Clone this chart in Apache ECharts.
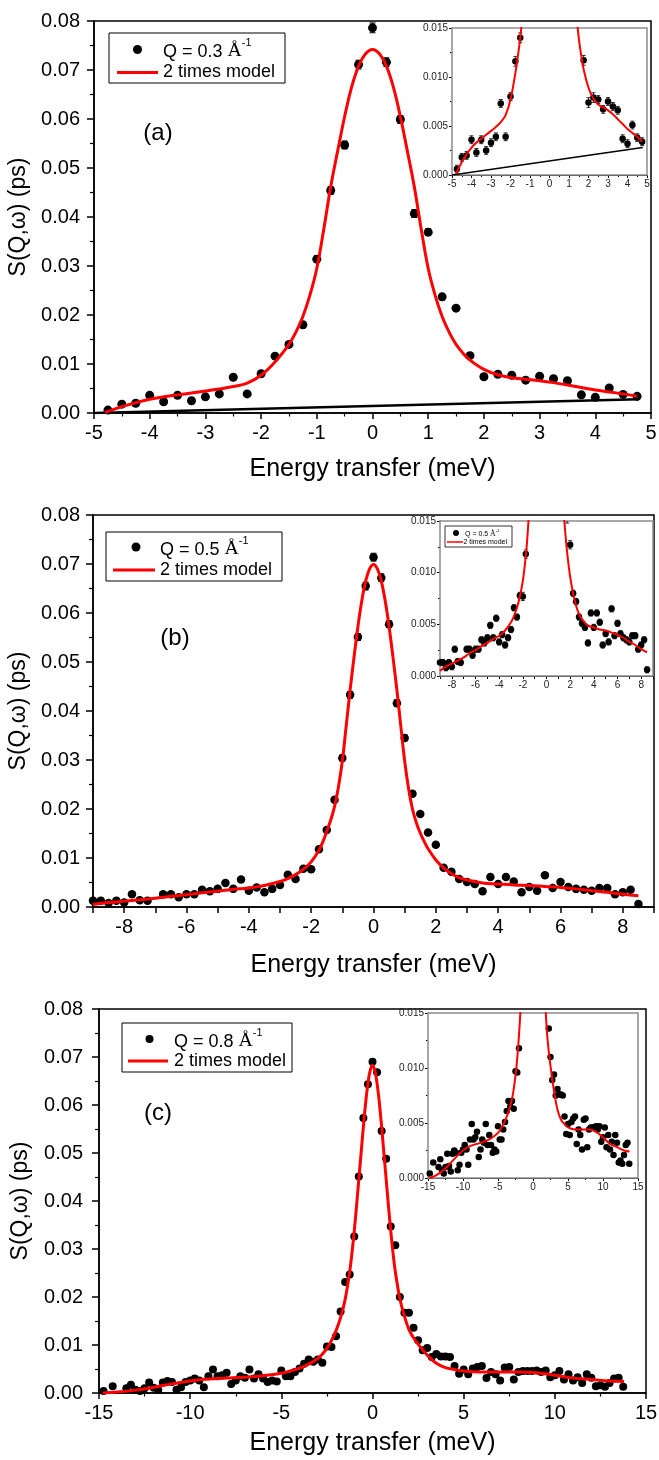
<!DOCTYPE html>
<html><head><meta charset="utf-8">
<script src="https://cdn.jsdelivr.net/npm/echarts@6/dist/echarts.min.js"></script>
<style>html,body{margin:0;padding:0;background:#fff}#c{width:659px;height:1460px}</style>
</head><body><div id="c"></div>
<script>
// ---------- Panel (a): Q = 0.3 ----------
const xA = [-4.75,-4.5,-4.25,-4,-3.75,-3.5,-3.25,-3,-2.75,-2.5,-2.25,-2,-1.75,-1.5,-1.25,-1,-0.75,-0.5,-0.25,0,0.25,0.5,0.75,1,1.25,1.5,1.75,2,2.25,2.5,2.75,3,3.25,3.5,3.75,4,4.25,4.5,4.75];
const yA = [0.0006,0.0018,0.0020,0.0036,0.0023,0.0036,0.0025,0.0033,0.0039,0.0073,0.0039,0.0080,0.0116,0.0140,0.0180,0.0314,0.0454,0.0547,0.0711,0.0786,0.0716,0.0599,0.0407,0.0369,0.0237,0.0214,0.0117,0.0074,0.0079,0.0077,0.0067,0.0075,0.0070,0.0066,0.0037,0.0032,0.0051,0.0038,0.0034];
const eA = [0.0004,0.0004,0.0004,0.0004,0.0004,0.0004,0.0004,0.0004,0.0004,0.0004,0.0004,0.0004,0.0005,0.0005,0.0006,0.0007,0.0008,0.0008,0.0009,0.0010,0.0009,0.0008,0.0008,0.0007,0.0006,0.0005,0.0005,0.0005,0.0005,0.0004,0.0004,0.0004,0.0004,0.0004,0.0004,0.0004,0.0004,0.0004,0.0004];
const xCurveA = [-4.8,-4.5,-4.25,-4,-3.75,-3.5,-3.25,-3,-2.75,-2.5,-2.25,-2,-1.75,-1.625,-1.5,-1.375,-1.25,-1.125,-1,-0.875,-0.75,-0.625,-0.5,-0.375,-0.25,-0.125,0,0.125,0.25,0.375,0.5,0.625,0.75,0.875,1,1.125,1.25,1.375,1.5,1.625,1.75,2,2.25,2.5,2.75,3,3.25,3.5,3.75,4,4.25,4.5,4.75];
const yCurveA = [0.0001,0.0013,0.0021,0.0028,0.0033,0.0037,0.0041,0.0045,0.0049,0.0054,0.0061,0.0077,0.0104,0.0121,0.0140,0.0165,0.0197,0.0240,0.0295,0.0375,0.0462,0.0535,0.0605,0.0665,0.0708,0.0733,0.0742,0.0733,0.0708,0.0665,0.0605,0.0535,0.0462,0.0375,0.0295,0.0240,0.0197,0.0165,0.0140,0.0122,0.0108,0.0089,0.0078,0.0072,0.0069,0.0066,0.0062,0.0057,0.0052,0.0047,0.0043,0.0039,0.0034];
const xBgA = [-5, 4.78];
const yBgA = [0.0000, 0.0028];

// ---------- Panel (b): Q = 0.5 ----------
const xB = [-9,-8.75,-8.5,-8.25,-8,-7.75,-7.5,-7.25,-6.75,-6.5,-6.25,-6,-5.75,-5.5,-5.25,-5,-4.75,-4.5,-4.25,-4,-3.75,-3.5,-3.25,-3,-2.75,-2.5,-2.25,-2,-1.75,-1.5,-1.25,-1,-0.75,-0.5,-0.25,0,0.25,0.5,0.75,1,1.25,1.5,1.75,2,2.25,2.5,2.75,3,3.25,3.5,3.75,4,4.25,4.5,4.75,5,5.25,5.5,5.75,6,6.25,6.5,6.75,7,7.25,7.5,7.75,8,8.25,8.5];
const yB = [0.0013,0.0013,0.0008,0.0013,0.0009,0.0026,0.0014,0.0013,0.0026,0.0026,0.0020,0.0026,0.0026,0.0035,0.0032,0.0037,0.0049,0.0037,0.0056,0.0033,0.0040,0.0030,0.0037,0.0045,0.0066,0.0057,0.0078,0.0077,0.0118,0.0157,0.0219,0.0304,0.0433,0.0551,0.0655,0.0714,0.0672,0.0577,0.0416,0.0345,0.0231,0.0190,0.0152,0.0127,0.0080,0.0072,0.0057,0.0051,0.0047,0.0032,0.0061,0.0047,0.0061,0.0052,0.0030,0.0041,0.0033,0.0065,0.0039,0.0051,0.0041,0.0037,0.0035,0.0033,0.0039,0.0039,0.0026,0.0030,0.0035,0.0006];
const eB = [0.0003,0.0003,0.0003,0.0003,0.0003,0.0003,0.0003,0.0003,0.0003,0.0003,0.0003,0.0003,0.0003,0.0003,0.0003,0.0003,0.0003,0.0003,0.0003,0.0003,0.0003,0.0003,0.0003,0.0003,0.0003,0.0003,0.0003,0.0004,0.0004,0.0004,0.0005,0.0006,0.0007,0.0007,0.0008,0.0008,0.0008,0.0007,0.0007,0.0006,0.0005,0.0004,0.0004,0.0004,0.0003,0.0003,0.0003,0.0003,0.0003,0.0003,0.0003,0.0003,0.0003,0.0003,0.0003,0.0003,0.0003,0.0003,0.0003,0.0003,0.0003,0.0003,0.0003,0.0003,0.0003,0.0003,0.0003,0.0003,0.0003,0.0003];
const xCurveB = [-9,-8.5,-8,-7.5,-7,-6.5,-6,-5.5,-5,-4.5,-4,-3.5,-3,-2.75,-2.5,-2.25,-2,-1.75,-1.625,-1.5,-1.375,-1.25,-1.125,-1,-0.875,-0.75,-0.625,-0.5,-0.375,-0.25,-0.125,0,0.125,0.25,0.375,0.5,0.625,0.75,0.875,1,1.125,1.25,1.375,1.5,1.625,1.75,2,2.25,2.5,2.75,3,3.5,4,4.5,5,5.5,6,6.5,7,7.5,8,8.5];
const yCurveB = [0.0005,0.0009,0.0012,0.0015,0.0018,0.0022,0.0025,0.0029,0.0032,0.0036,0.0039,0.0044,0.0052,0.0058,0.0066,0.0077,0.0092,0.0116,0.0133,0.0154,0.0177,0.0205,0.0245,0.0298,0.0370,0.0443,0.0510,0.0572,0.0625,0.0665,0.0690,0.0699,0.0690,0.0665,0.0625,0.0572,0.0510,0.0443,0.0370,0.0298,0.0242,0.0200,0.0172,0.0151,0.0134,0.0119,0.0096,0.0080,0.0068,0.0060,0.0055,0.0049,0.0047,0.0045,0.0044,0.0042,0.0040,0.0037,0.0033,0.0030,0.0026,0.0023];

// ---------- Panel (c): Q = 0.8 ----------
const xC = [-14.75,-14.25,-13.5,-13.25,-13,-12.75,-12.5,-12.25,-12,-11.75,-11.5,-11.25,-11,-10.75,-10.5,-10.25,-10,-9.75,-9.5,-9.25,-9,-8.75,-8.5,-8.25,-8,-7.75,-7.5,-7.25,-7,-6.75,-6.5,-6.25,-6,-5.75,-5.5,-5.25,-5,-4.75,-4.5,-4.25,-4,-3.75,-3.5,-3.25,-3,-2.75,-2.5,-2.25,-2,-1.75,-1.5,-1.25,-1,-0.75,-0.5,-0.25,0,0.25,0.5,0.75,1,1.25,1.5,1.75,2,2.25,2.5,2.75,3,3.25,3.5,3.75,4,4.25,4.5,4.75,5,5.25,5.5,5.75,6,6.25,6.5,6.75,7,7.25,7.5,7.75,8,8.25,8.5,8.75,9,9.25,9.5,9.75,10,10.25,10.5,10.75,11,11.25,11.5,11.75,12,12.25,12.5,12.75,13,13.25,13.5,13.75];
const yC = [0.0004,0.0014,0.0010,0.0017,0.0007,0.0004,0.0010,0.0022,0.0011,0.0006,0.0022,0.0025,0.0023,0.0007,0.0012,0.0023,0.0026,0.0030,0.0026,0.0012,0.0035,0.0049,0.0035,0.0037,0.0042,0.0019,0.0026,0.0035,0.0032,0.0049,0.0030,0.0039,0.0030,0.0023,0.0026,0.0024,0.0047,0.0035,0.0035,0.0044,0.0051,0.0061,0.0070,0.0065,0.0070,0.0063,0.0097,0.0096,0.0118,0.0170,0.0231,0.0247,0.0326,0.0451,0.0573,0.0643,0.0690,0.0668,0.0546,0.0488,0.0347,0.0308,0.0200,0.0167,0.0167,0.0136,0.0110,0.0089,0.0094,0.0075,0.0081,0.0076,0.0076,0.0075,0.0056,0.0040,0.0049,0.0039,0.0051,0.0054,0.0056,0.0031,0.0044,0.0039,0.0026,0.0053,0.0054,0.0028,0.0044,0.0046,0.0046,0.0046,0.0047,0.0044,0.0047,0.0033,0.0037,0.0046,0.0028,0.0039,0.0026,0.0033,0.0021,0.0039,0.0032,0.0014,0.0016,0.0013,0.0021,0.0030,0.0032,0.0013];
const xCurveC = [-14.8,-14,-13,-12,-11,-10,-9,-8,-7,-6,-5,-4.5,-4,-3.5,-3,-2.75,-2.5,-2.25,-2,-1.75,-1.5,-1.25,-1.125,-1,-0.875,-0.75,-0.625,-0.5,-0.375,-0.25,-0.125,0,0.125,0.25,0.375,0.5,0.625,0.75,0.875,1,1.125,1.25,1.5,1.75,2,2.25,2.5,2.75,3,3.5,4,4.5,5,6,7,8,9,10,11,12,13,13.8];
const yCurveC = [0.0000,0.0002,0.0006,0.0012,0.0019,0.0025,0.0029,0.0031,0.0033,0.0036,0.0041,0.0046,0.0052,0.0060,0.0072,0.0081,0.0093,0.0109,0.0130,0.0157,0.0195,0.0253,0.0292,0.0338,0.0390,0.0445,0.0500,0.0555,0.0605,0.0645,0.0672,0.0683,0.0672,0.0645,0.0605,0.0555,0.0500,0.0445,0.0390,0.0338,0.0292,0.0253,0.0197,0.0160,0.0132,0.0115,0.0102,0.0090,0.0079,0.0062,0.0053,0.0049,0.0046,0.0044,0.0044,0.0044,0.0042,0.0037,0.0031,0.0028,0.0025,0.0024];

// tick label sets
const yTicksMain = [0, 0.08, 0.01];
const yTicksInset = [0, 0.015, 0.005];

const FONT = '"Liberation Sans", Arial, Helvetica, sans-serif';
const SERIF = '"Liberation Serif", "Times New Roman", serif';
const RED = '#ff0000';

function pts(xs, ys) { return xs.map((x, i) => [x, ys[i]]); }
function ptsE(xs, ys, es) { return xs.map((x, i) => [x, ys[i], es[i]]); }

const grids = [
  {left: 94, top: 21, width: 557, height: 392},
  {left: 452, top: 28, width: 195, height: 147},
  {left: 93, top: 515, width: 561, height: 392},
  {left: 440, top: 521, width: 213, height: 155},
  {left: 99, top: 1009, width: 547, height: 384},
  {left: 428, top: 1013, width: 210, height: 165}
].map((g, i) => Object.assign(g, {
  show: true,
  borderColor: (i % 2) ? '#8c8c8c' : '#000',
  borderWidth: 1.5,
  backgroundColor: '#fff',
  outerBoundsMode: 'none',
  z: (i % 2) ? 5 : 0
}));

const evenOnly = v => (Math.abs(Math.round(v)) % 2 === 0 ? String(Math.round(v)) : '');
const intFmt = v => String(Math.round(v));

function mainX(gi, min, max, interval, minor, fmt, nameGap) {
  return {
    type: 'value', gridIndex: gi, min, max, interval,
    axisLine: {show: true, onZero: false, lineStyle: {color: '#000', width: 1.5}},
    axisTick: {show: true, inside: false, length: 6, lineStyle: {color: '#000', width: 1.5}},
    minorTick: {show: minor > 0, splitNumber: minor || 2, length: 3.5, lineStyle: {color: '#000', width: 1.2}},
    splitLine: {show: false}, minorSplitLine: {show: false},
    axisLabel: {color: '#000', fontSize: 20, fontFamily: FONT, margin: 10, formatter: fmt},
    name: 'Energy transfer (meV)', nameLocation: 'middle', nameGap,
    nameTextStyle: {color: '#000', fontSize: 25, fontFamily: FONT}
  };
}
function mainY(gi, margin, nameGap) {
  return {
    type: 'value', gridIndex: gi, min: yTicksMain[0], max: yTicksMain[1], interval: yTicksMain[2],
    axisLine: {show: true, onZero: false, lineStyle: {color: '#000', width: 1.5}},
    axisTick: {show: true, inside: false, length: 7, lineStyle: {color: '#000', width: 1.5}},
    minorTick: {show: true, splitNumber: 2, length: 4, lineStyle: {color: '#000', width: 1.2}},
    splitLine: {show: false}, minorSplitLine: {show: false},
    axisLabel: {color: '#000', fontSize: 20, fontFamily: FONT, margin, formatter: v => v.toFixed(2)},
    name: 'S(Q,ω) (ps)', nameLocation: 'middle', nameRotate: 90, nameGap,
    nameTextStyle: {color: '#000', fontSize: 23, fontFamily: FONT}
  };
}
function insetX(gi, min, max, interval, minor, fmt) {
  return {
    type: 'value', gridIndex: gi, min, max, interval,
    axisLine: {show: true, onZero: false, lineStyle: {color: '#000', width: 1}},
    axisTick: {show: true, inside: false, length: 3, lineStyle: {color: '#000', width: 1}},
    minorTick: {show: minor > 0, splitNumber: minor || 2, length: 2, lineStyle: {color: '#000', width: 1}},
    splitLine: {show: false}, minorSplitLine: {show: false},
    axisLabel: {color: '#222', fontSize: 10, fontFamily: FONT, margin: 4, formatter: fmt}
  };
}
function insetY(gi) {
  return {
    type: 'value', gridIndex: gi, min: yTicksInset[0], max: yTicksInset[1], interval: yTicksInset[2],
    axisLine: {show: true, onZero: false, lineStyle: {color: '#000', width: 1}},
    axisTick: {show: true, inside: false, length: 3, lineStyle: {color: '#000', width: 1}},
    minorTick: {show: true, splitNumber: 2, length: 2, lineStyle: {color: '#000', width: 1}},
    splitLine: {show: false}, minorSplitLine: {show: false},
    axisLabel: {color: '#222', fontSize: 10, fontFamily: FONT, margin: 4, formatter: v => v.toFixed(3)}
  };
}

const xAxis = [
  mainX(0, -5, 5, 1, 2, intFmt, 44),
  insetX(1, -5, 5, 1, 2, intFmt),
  mainX(2, -9, 9, 1, 0, evenOnly, 46),
  insetX(3, -9, 9, 1, 0, evenOnly),
  mainX(4, -15, 15, 5, 2, intFmt, 38),
  insetX(5, -15, 15, 5, 2, intFmt)
];
const yAxis = [
  mainY(0, 14, 56),
  insetY(1),
  mainY(2, 13, 59),
  insetY(3),
  mainY(4, 16, 67),
  insetY(5)
];

function scatter(ai, data, size, z) {
  return {type: 'scatter', xAxisIndex: ai, yAxisIndex: ai, data, symbol: 'circle', symbolSize: size,
    itemStyle: {color: '#000', opacity: 1}, clip: true, silent: true, z: z || 3};
}
function curve(ai, data, color, width, z) {
  return {type: 'line', xAxisIndex: ai, yAxisIndex: ai, data, showSymbol: false, symbol: 'none',
    smooth: 0.4, clip: true, silent: true,
    lineStyle: {color, width}, z: z || 4};
}
function errBars(ai, data, cap, lw, z) {
  return {type: 'custom', xAxisIndex: ai, yAxisIndex: ai, data, clip: true, silent: true, z: z || 3,
    encode: {x: 0, y: 1},
    renderItem(params, api) {
      const x = api.value(0), y = api.value(1), e = api.value(2);
      const p1 = api.coord([x, y - e]), p2 = api.coord([x, y + e]);
      const st = {stroke: '#000', lineWidth: lw};
      return {type: 'group', children: [
        {type: 'line', shape: {x1: p1[0], y1: p1[1], x2: p2[0], y2: p2[1]}, style: st},
        {type: 'line', shape: {x1: p1[0] - cap, y1: p1[1], x2: p1[0] + cap, y2: p1[1]}, style: st},
        {type: 'line', shape: {x1: p2[0] - cap, y1: p2[1], x2: p2[0] + cap, y2: p2[1]}, style: st}
      ]};
    }};
}

const series = [
  // (a) main
  curve(0, pts(xBgA, yBgA), '#000', 2.5, 3),
  errBars(0, ptsE(xA, yA, eA), 3, 1),
  scatter(0, pts(xA, yA), 9),
  curve(0, pts(xCurveA, yCurveA), RED, 3),
  // (a) inset
  curve(1, pts(xBgA, yBgA), '#000', 1.5, 13),
  errBars(1, ptsE(xA, yA, eA), 2, 0.8, 13),
  scatter(1, pts(xA, yA), 6.5, 13),
  curve(1, pts(xCurveA, yCurveA), RED, 2, 14),
  // (b) main
  errBars(2, ptsE(xB, yB, eB), 3, 1),
  scatter(2, pts(xB, yB), 8.5),
  curve(2, pts(xCurveB, yCurveB), RED, 3),
  // (b) inset
  errBars(3, ptsE(xB, yB, eB), 2, 0.8, 13),
  scatter(3, pts(xB, yB), 6.5, 13),
  curve(3, pts(xCurveB, yCurveB), RED, 2, 14),
  // (c) main
  scatter(4, pts(xC, yC), 8),
  curve(4, pts(xCurveC, yCurveC), RED, 3),
  // (c) inset
  scatter(5, pts(xC, yC), 6.5, 13),
  curve(5, pts(xCurveC, yCurveC), RED, 2, 14)
];

function legendBox(b) {
  return [
    {type: 'rect', shape: {x: b.x, y: b.y, width: b.w, height: b.h}, style: {fill: '#fff', stroke: '#000', lineWidth: b.bw}, z: 100},
    {type: 'circle', shape: {cx: b.dx, cy: b.y1, r: b.r}, style: {fill: '#000'}, z: 101},
    {type: 'text', x: b.tx, y: b.y1, z: 101, style: {
      text: '{n|' + b.q + ' }{a|Å}{s|-1}', verticalAlign: 'middle', align: 'left',
      rich: {
        n: {fontSize: b.fs, fontFamily: FONT, fill: '#000', verticalAlign: 'bottom', lineHeight: b.fs * 1.3},
        a: {fontSize: b.fs * 1.1, fontFamily: SERIF, fill: '#000', verticalAlign: 'bottom', lineHeight: b.fs * 1.3},
        s: {fontSize: b.fs * 0.6, fontFamily: FONT, fill: '#000', verticalAlign: 'top', lineHeight: b.fs * 0.7}
      }}},
    {type: 'line', shape: {x1: b.lx0, y1: b.y2, x2: b.lx1, y2: b.y2}, style: {stroke: RED, lineWidth: b.lw}, z: 101},
    {type: 'text', x: b.tx2, y: b.y2, z: 101, style: {text: '2 times model', fontSize: b.fs, fontFamily: FONT, fill: '#000', verticalAlign: 'middle', align: 'left'}}
  ];
}

const graphic = [].concat(
  legendBox({x: 109, y: 33, w: 176, h: 50, bw: 1, dx: 137.5, r: 4.5, y1: 49.5, tx: 163, q: 'Q = 0.3', fs: 18, lx0: 117, lx1: 158, y2: 72.5, lw: 3, tx2: 163}),
  legendBox({x: 106, y: 532, w: 176, h: 49, bw: 1, dx: 136, r: 4.5, y1: 547, tx: 160, q: 'Q = 0.5', fs: 18, lx0: 113, lx1: 155, y2: 570, lw: 3, tx2: 160}),
  legendBox({x: 122, y: 1023, w: 170, h: 49, bw: 1, dx: 149.5, r: 4, y1: 1039, tx: 174, q: 'Q = 0.8', fs: 18, lx0: 128, lx1: 168, y2: 1061, lw: 3, tx2: 174}),
  legendBox({x: 445, y: 526, w: 67, h: 21, bw: 0.8, dx: 456, r: 3, y1: 533, tx: 465, q: 'Q = 0.5', fs: 7, lx0: 447, lx1: 463, y2: 542, lw: 1.5, tx2: 463.5}),
  [
    {type: 'text', x: 158, y: 133, z: 101, style: {text: '(a)', fontSize: 24, fontFamily: FONT, fill: '#000', align: 'center', verticalAlign: 'middle'}},
    {type: 'text', x: 175, y: 638, z: 101, style: {text: '(b)', fontSize: 24, fontFamily: FONT, fill: '#000', align: 'center', verticalAlign: 'middle'}},
    {type: 'text', x: 158, y: 1113, z: 101, style: {text: '(c)', fontSize: 24, fontFamily: FONT, fill: '#000', align: 'center', verticalAlign: 'middle'}}
  ]
);

const chart = echarts.init(document.getElementById('c'), null, {renderer: 'canvas'});
chart.setOption({
  animation: false,
  backgroundColor: '#fff',
  grid: grids,
  xAxis, yAxis, series, graphic
});
</script>
</body></html>
